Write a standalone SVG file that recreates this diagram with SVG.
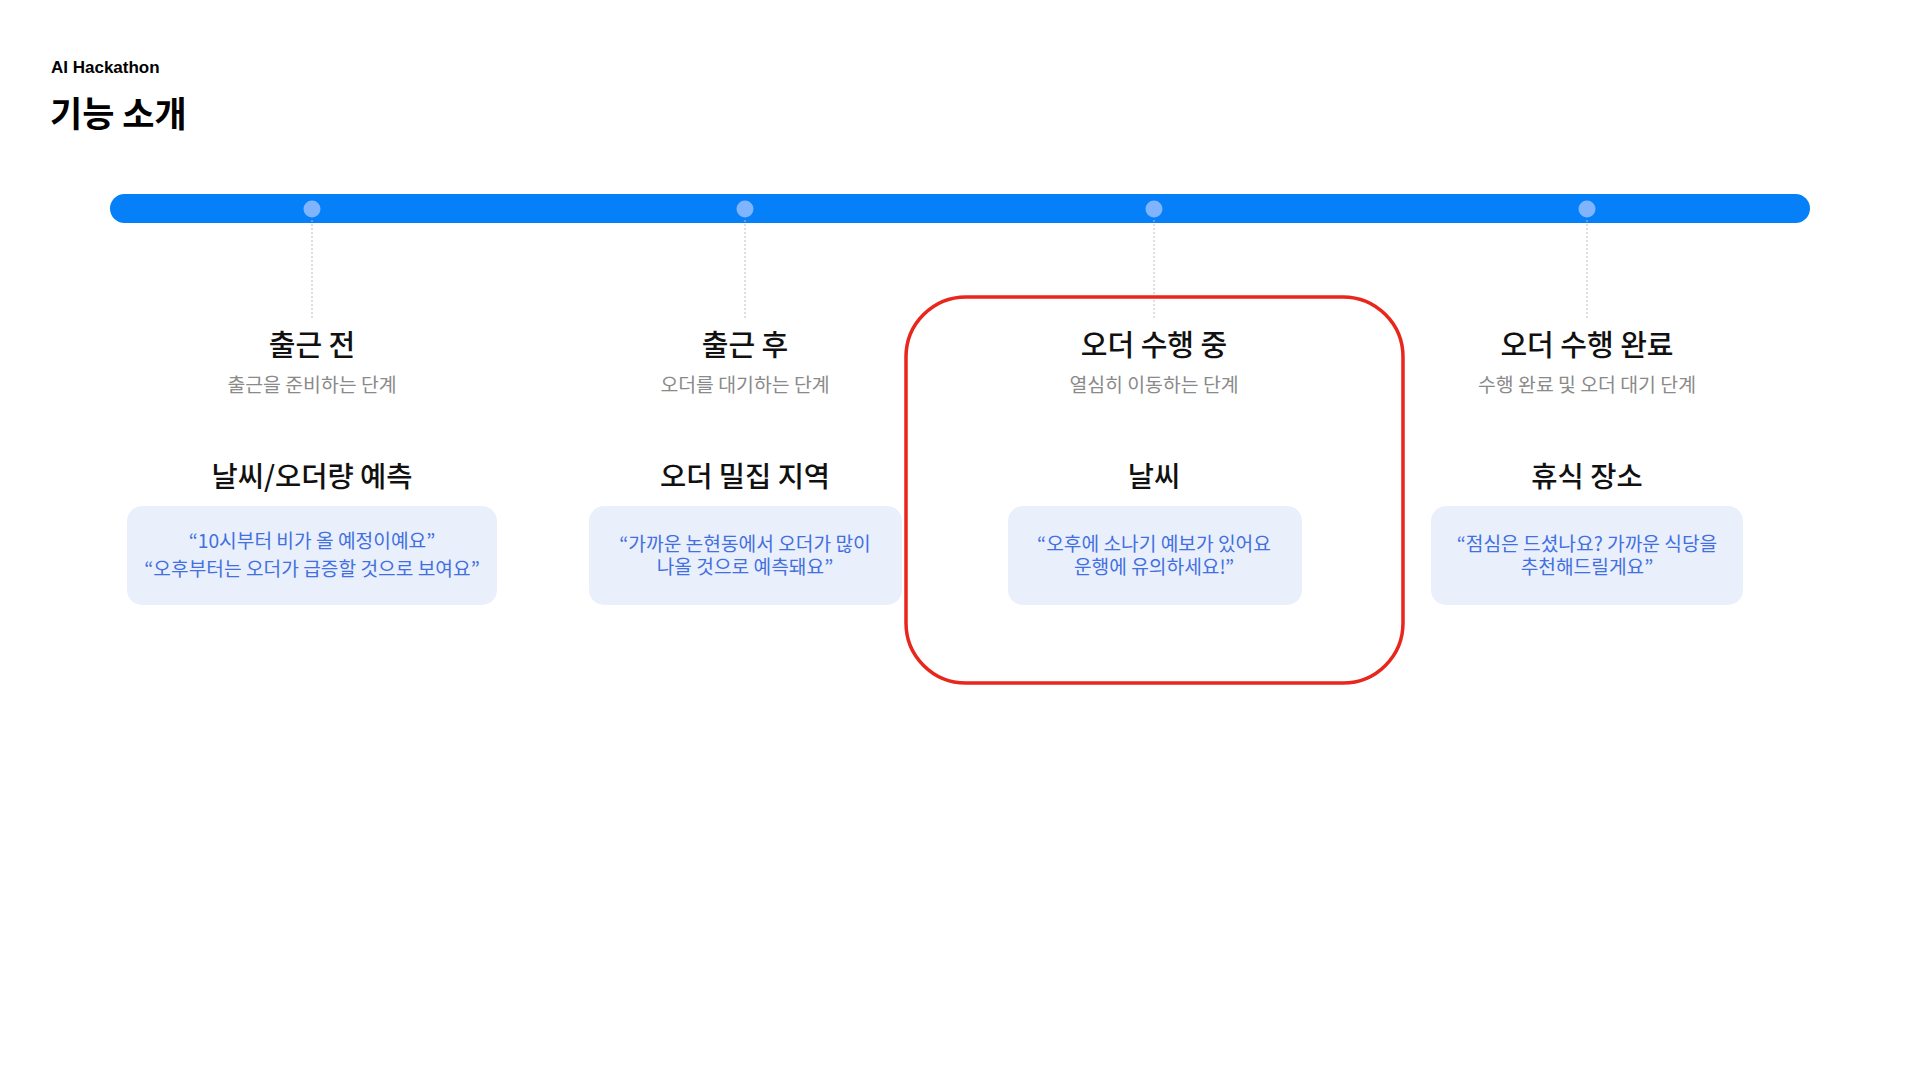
<svg xmlns="http://www.w3.org/2000/svg" width="1920" height="1080" viewBox="0 0 1920 1080">
<style>
text{font-family:"Noto Sans CJK KR","Liberation Sans",sans-serif;text-anchor:middle}
.brand{font-family:"Liberation Sans","Noto Sans CJK KR",sans-serif;font-weight:700;font-size:17px;fill:#000;text-anchor:start}
.page{font-weight:700;font-size:35px;fill:#000;text-anchor:start}
.stage{font-weight:500;font-size:29px;fill:#111}
.sub{font-size:19.4px;fill:#8a8a8a}
.feat{font-weight:500;font-size:28.5px;fill:#111}
.box{fill:#EAEFFC}
.quote{font-size:19.2px;fill:#4270E0}
.dot{fill:#80B4FF}
.tick{stroke:#BDBDBD;stroke-width:1;stroke-dasharray:2 2}
</style>
<rect width="1920" height="1080" fill="#fff"/>
<text class="brand" x="51" y="73">AI Hackathon</text>
<text class="page" x="50" y="127">기능 소개</text>

<g id="timeline">
<rect x="110" y="194" width="1700" height="29" rx="14.5" fill="#0580F8"/>
</g>

<g id="connectors">
<line class="tick" x1="312" y1="220" x2="312" y2="318"/>
<line class="tick" x1="745" y1="220" x2="745" y2="318"/>
<line class="tick" x1="1154" y1="220" x2="1154" y2="318"/>
<line class="tick" x1="1587" y1="220" x2="1587" y2="318"/>
</g>

<g id="stage1">
<circle class="dot" cx="312" cy="209" r="8.5"/>
<text class="stage" x="312" y="356">출근 전</text>
<text class="sub" x="312" y="392">출근을 준비하는 단계</text>
<text class="feat" x="312" y="487">날씨/오더량 예측</text>
<rect class="box" x="127" y="506" width="370" height="99" rx="15"/>
<text class="quote" x="312" y="548">“10시부터 비가 올 예정이예요”</text>
<text class="quote" x="312" y="576">“오후부터는 오더가 급증할 것으로 보여요”</text>
</g>

<g id="stage2">
<circle class="dot" cx="745" cy="209" r="8.5"/>
<text class="stage" x="745" y="356">출근 후</text>
<text class="sub" x="745" y="392">오더를 대기하는 단계</text>
<text class="feat" x="745" y="487">오더 밀집 지역</text>
<rect class="box" x="589" y="506" width="313" height="99" rx="15"/>
<text class="quote" x="745" y="551">“가까운 논현동에서 오더가 많이</text>
<text class="quote" x="745" y="574">나올 것으로 예측돼요”</text>
</g>

<g id="stage3">
<circle class="dot" cx="1154" cy="209" r="8.5"/>
<text class="stage" x="1154" y="356">오더 수행 중</text>
<text class="sub" x="1154" y="392">열심히 이동하는 단계</text>
<text class="feat" x="1154" y="487">날씨</text>
<rect class="box" x="1008" y="506" width="294" height="99" rx="15"/>
<text class="quote" x="1154" y="551">“오후에 소나기 예보가 있어요</text>
<text class="quote" x="1154" y="574">운행에 유의하세요!”</text>
</g>

<g id="stage4">
<circle class="dot" cx="1587" cy="209" r="8.5"/>
<text class="stage" x="1587" y="356">오더 수행 완료</text>
<text class="sub" x="1587" y="392">수행 완료 및 오더 대기 단계</text>
<text class="feat" x="1587" y="487">휴식 장소</text>
<rect class="box" x="1431" y="506" width="312" height="99" rx="15"/>
<text class="quote" x="1587" y="551">“점심은 드셨나요? 가까운 식당을</text>
<text class="quote" x="1587" y="574">추천해드릴게요”</text>
</g>

<g id="highlight">
<rect x="906" y="297" width="497" height="386" rx="60" fill="none" stroke="#E8261B" stroke-width="3.5"/>
</g>
</svg>
